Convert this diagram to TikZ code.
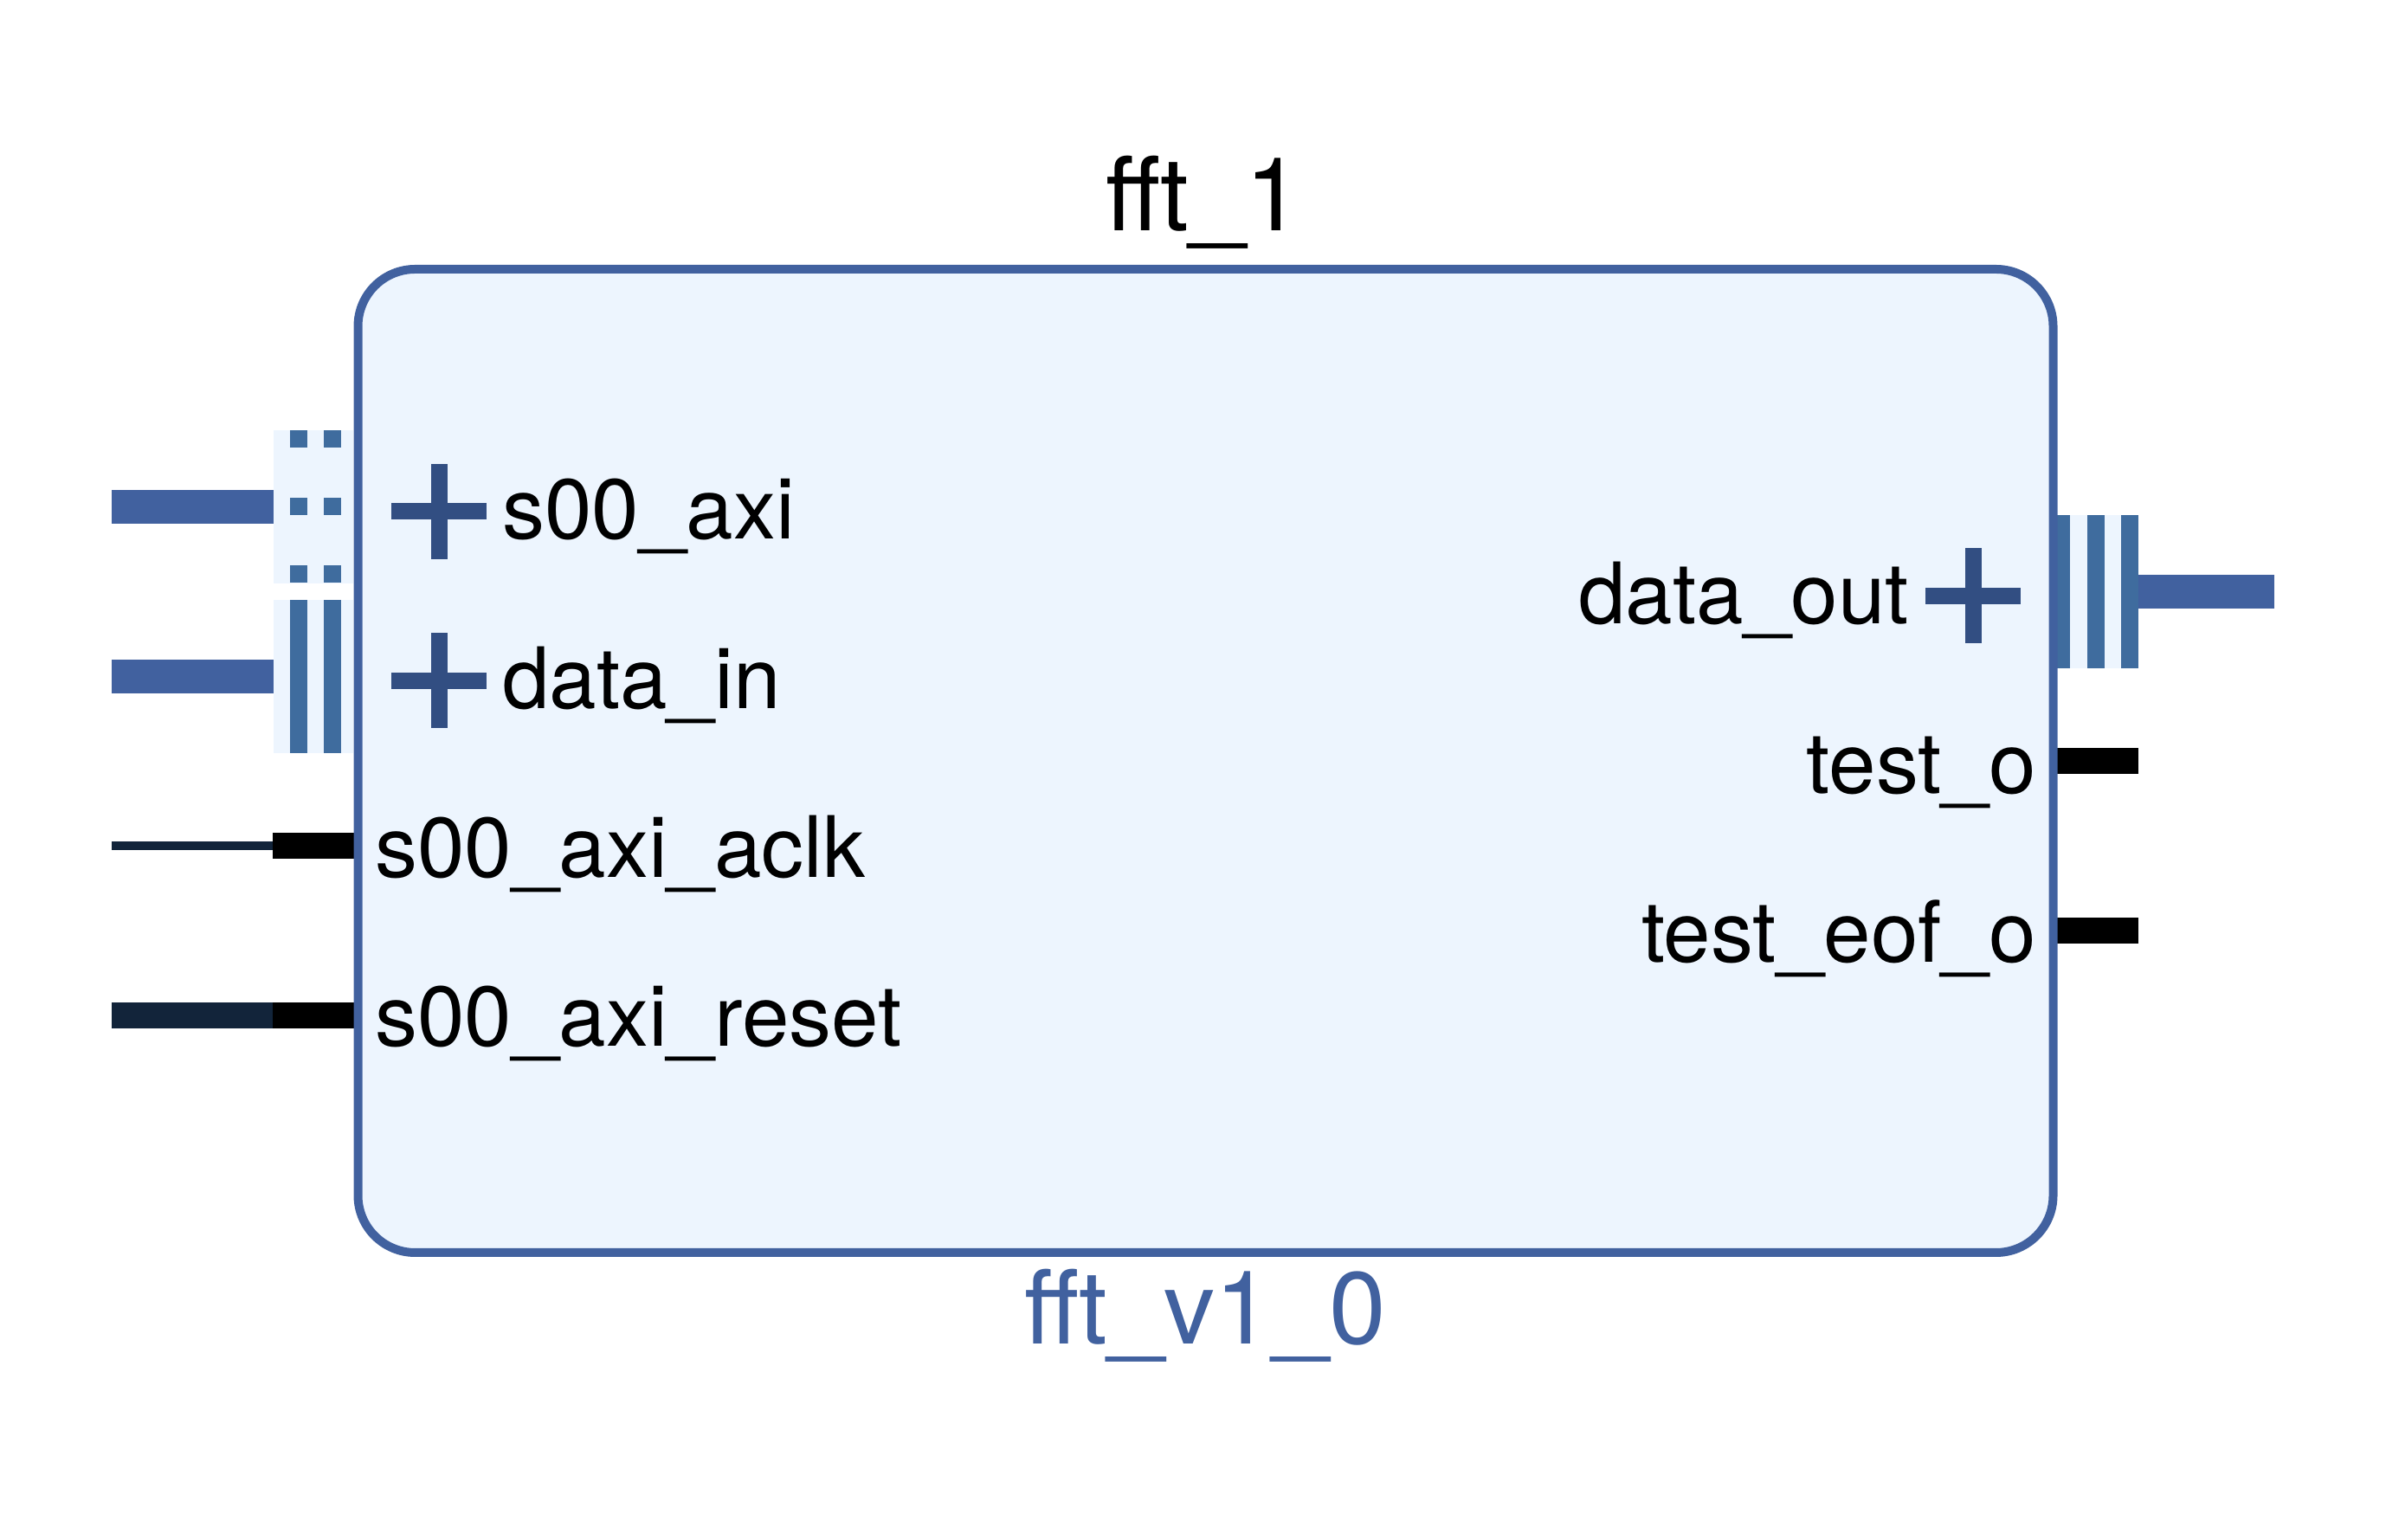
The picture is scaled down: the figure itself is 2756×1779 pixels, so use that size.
\documentclass[tikz,border=0pt]{standalone}
\usepackage{fontspec}
\setmainfont{TeX Gyre Heros}
\definecolor{ipstroke}{HTML}{41619F}
\definecolor{ipfill}{HTML}{EDF5FE}
\definecolor{stripe}{HTML}{3F6C9E}
\definecolor{plusc}{HTML}{324E82}
\definecolor{darkw}{HTML}{12243A}
\tikzset{
  x=1pt,y=1pt,
  blk/.style={draw=ipstroke,fill=ipfill,line width=10pt,rounded corners=66pt,minimum width=1958pt,minimum height=1136pt,inner sep=0pt},
  portbg/.style={fill=ipfill,minimum width=#1,minimum height=177pt,inner sep=0pt},
  bar/.style={fill=stripe,inner sep=0pt,minimum width=20pt},
  pin/.style={fill=black,inner sep=0pt,minimum width=94pt,minimum height=30pt},
  buswire/.style={draw=ipstroke,line width=39pt},
  clkwire/.style={draw=darkw,line width=10pt},
  rstwire/.style={draw=darkw,line width=30pt},
  lbl/.style={inner sep=0pt,font=\fontsize{98pt}{100pt}\selectfont},
  plusbar/.style={fill=plusc,inner sep=0pt},
}
\newcommand{\plusmark}[3]{%
  \node[plusbar,minimum width=110pt,minimum height=19pt] (#1h) at (#2,#3) {};
  \node[plusbar,minimum width=19pt,minimum height=110pt] (#1v) at (#2,#3) {};
}
\begin{document}
\begin{tikzpicture}
\useasboundingbox (0,0) rectangle (2756,1779);
% left ports
\node[portbg=92pt] (p1) at (362,1193.5) {};
\node[portbg=92pt] (p2) at (362,997.5) {};
\foreach \yy/\nn in {1271.5/a,1193.5/b,1115.5/c}{
  \node[bar,minimum height=20pt] (d1\nn) at (345,\yy) {};
  \node[bar,minimum height=20pt] (d2\nn) at (384,\yy) {};
}
\node[bar,minimum height=177pt] (s1) at (345,997.5) {};
\node[bar,minimum height=177pt] (s2) at (384,997.5) {};
\coordinate (w1) at (129,1193.5);
\coordinate (w2) at (129,997.5);
\coordinate (w3) at (129,802);
\coordinate (w4) at (129,606);
\draw[buswire] (w1) -- (p1.west);
\draw[buswire] (w2) -- (p2.west);
\node[pin] (ck) at (362,802) {};
\node[pin] (rs) at (362,606) {};
\draw[clkwire] (w3) -- (ck.west);
\draw[rstwire] (w4) -- (rs.west);
% right ports
\node[portbg=94pt] (q1) at (2423,1095) {};
\foreach \xx/\nn in {2381/a,2420.5/b,2460/c}{
  \node[bar,minimum height=177pt] (r\nn) at (\xx,1095) {};
}
\coordinate (w5) at (2627,1095);
\draw[buswire] (q1.east) -- (w5);
\node[pin] (to) at (2423,900) {};
\node[pin] (te) at (2423,704) {};
% block
\node[blk] (b) at (1392.5,900) {};
% plus marks
\plusmark{pa}{507}{1188}
\plusmark{pb}{507}{992.5}
\plusmark{pc}{2279}{1090.5}
% labels
\node[lbl,anchor=base west] (l1) at (580,1156) {s00\_axi};
\node[lbl,anchor=base west] (l2) at (580,960) {data\_in};
\node[lbl,anchor=base west] (l3) at (433,765) {s00\_axi\_aclk};
\node[lbl,anchor=base west] (l4) at (433,570) {s00\_axi\_reset};
\node[lbl,anchor=base east] (l5) at (2205,1058) {data\_out};
\node[lbl,anchor=base east] (l6) at (2352,862) {test\_o};
\node[lbl,anchor=base east] (l7) at (2352,667) {test\_eof\_o};
\node[inner sep=0pt,anchor=base,font=\fontsize{118pt}{120pt}\selectfont] (title) at (1391,1512) {fft\_1};
\node[inner sep=0pt,anchor=base,text=ipstroke,font=\fontsize{118pt}{120pt}\selectfont] (type) at (1392,226.5) {fft\_v1\_0};
\end{tikzpicture}
\end{document}
